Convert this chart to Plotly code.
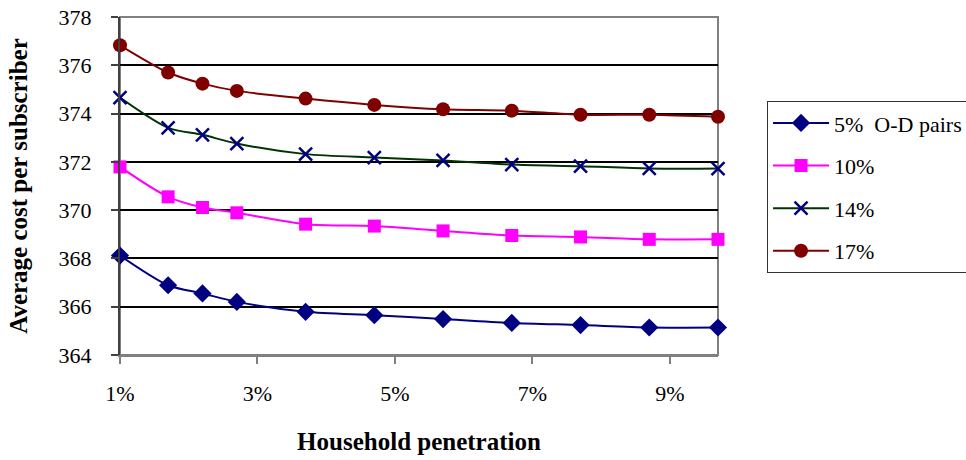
import plotly.graph_objects as go

# Household penetration (%)
penetration = [1, 1.7, 2.2, 2.7, 3.7, 4.7, 5.7, 6.7, 7.7, 8.7, 9.7]

series_names = ["5%  O-D pairs", "10%", "14%", "17%"]
cost_5 = [368.12, 366.89, 366.55, 366.20, 365.79, 365.65, 365.49, 365.33, 365.24, 365.14, 365.14]
cost_10 = [371.79, 370.55, 370.11, 369.89, 369.42, 369.34, 369.14, 368.95, 368.89, 368.79, 368.79]
cost_14 = [374.66, 373.41, 373.12, 372.76, 372.32, 372.18, 372.06, 371.89, 371.82, 371.73, 371.72]
cost_17 = [376.83, 375.70, 375.24, 374.94, 374.62, 374.36, 374.18, 374.12, 373.95, 373.95, 373.87]

x_tick_vals = [1, 3, 5, 7, 9]
x_tick_text = ["1%", "3%", "5%", "7%", "9%"]
y_tick_vals = [364, 366, 368, 370, 372, 374, 376, 378]

FONT = "Liberation Serif, Times New Roman, serif"

styles = [
    dict(line=dict(color="#000080", width=2), marker=dict(symbol="diamond", size=14, color="#000080")),
    dict(line=dict(color="#FF00FF", width=2), marker=dict(symbol="square", size=13, color="#FF00FF")),
    dict(line=dict(color="#003300", width=2),
         marker=dict(symbol="x-thin", size=13, color="#000080", line=dict(color="#000080", width=2.5))),
    dict(line=dict(color="#800000", width=2), marker=dict(symbol="circle", size=14, color="#800000")),
]

fig = go.Figure()
for i, (name, vals) in enumerate(zip(series_names, [cost_5, cost_10, cost_14, cost_17])):
    st = styles[i]
    fig.add_trace(go.Scatter(
        x=penetration, y=vals, name=name, mode="lines+markers",
        line=dict(shape="spline", smoothing=0.8, **st["line"]),
        marker=st["marker"], cliponaxis=False, legendgroup=f"g{i}",
    ))

fig.update_layout(
    width=966, height=460,
    margin=dict(l=120, r=248, t=17, b=105, autoexpand=False),
    plot_bgcolor="white", paper_bgcolor="white",
    font=dict(family=FONT, size=22, color="black"),
    showlegend=True,
    legend=dict(
        x=1.082, y=0.751, xanchor="left", yanchor="top",
        bgcolor="white", bordercolor="#333333", borderwidth=1,
        font=dict(family=FONT, size=22, color="black"),
        itemwidth=56, tracegroupgap=11,
        entrywidth=180, entrywidthmode="pixels",
    ),
    shapes=[dict(type="rect", xref="paper", yref="paper", x0=0, x1=1, y0=0, y1=1,
                 line=dict(color="#808080", width=2), layer="below")],
)

fig.update_xaxes(
    range=[1, 9.7], tickmode="array", tickvals=x_tick_vals, ticktext=x_tick_text,
    showgrid=False, zeroline=False,
    showline=True, linecolor="#808080", linewidth=2,
    ticks="outside", ticklen=7, tickcolor="#808080", tickwidth=2,
    ticklabelstandoff=11,
    tickfont=dict(family=FONT, size=22),
    title=dict(text="<b>Household penetration</b>", font=dict(family=FONT, size=25), standoff=27),
)
fig.update_yaxes(
    range=[364, 378], tickmode="array", tickvals=y_tick_vals,
    showgrid=True, gridcolor="black", gridwidth=2, zeroline=False,
    showline=True, linecolor="#404040", linewidth=2,
    ticks="outside", ticklen=7, tickcolor="#404040", tickwidth=2,
    ticklabelstandoff=15, ticklabeloverflow="allow",
    tickfont=dict(family=FONT, size=22),
    title=dict(text="<b>Average cost per subscriber</b>", font=dict(family=FONT, size=25), standoff=24),
)

# remove the default 8px page margin so the figure fills the window exactly
fig.write_html("out.html", config={"displayModeBar": False},
               post_script="document.body.style.margin='0';")
